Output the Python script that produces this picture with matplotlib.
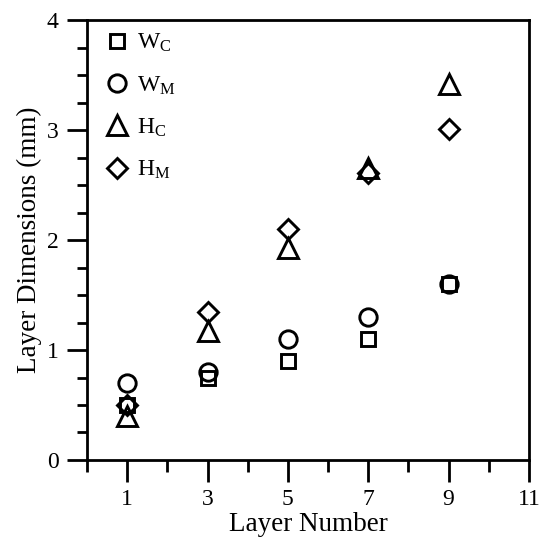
import matplotlib.pyplot as plt
from matplotlib.ticker import MultipleLocator, FixedLocator

plt.rcParams['font.family'] = 'Liberation Serif'
plt.rcParams['mathtext.fontset'] = 'custom'
plt.rcParams['mathtext.rm'] = 'Liberation Serif'
plt.rcParams['mathtext.it'] = 'Liberation Serif:italic'

# === DATA ===
layers = [1, 3, 5, 7, 9]
w_c = [0.50, 0.75, 0.90, 1.10, 1.60]
w_m = [0.70, 0.80, 1.10, 1.30, 1.60]
h_c = [0.40, 1.17, 1.93, 2.66, 3.42]
h_m = [0.50, 1.35, 2.10, 2.61, 3.01]

series = [
    (w_c, 's', 10.5, r'W$_\mathrm{C}$'),
    (w_m, 'o', 12.5, r'W$_\mathrm{M}$'),
    (h_c, '^', 14.5, r'H$_\mathrm{C}$'),
    (h_m, 'D', 10.0, r'H$_\mathrm{M}$'),
]

fig = plt.figure(figsize=(5.39, 5.45), dpi=100)
ax = fig.add_axes([0.1614, 0.156, 0.820, 0.807])

for vals, mk, ms, lab in series:
    ax.plot(layers, vals, linestyle='none', marker=mk, markersize=ms,
            markerfacecolor='none', markeredgecolor='black',
            markeredgewidth=2.1, label=lab)

ax.set_xlim(0, 11)
ax.set_ylim(0, 4)
ax.xaxis.set_major_locator(FixedLocator([1, 3, 5, 7, 9, 11]))
ax.xaxis.set_minor_locator(FixedLocator([0, 2, 4, 6, 8, 10]))
ax.yaxis.set_major_locator(MultipleLocator(1))
ax.yaxis.set_minor_locator(MultipleLocator(0.25))

ax.tick_params(axis='x', which='major', direction='out', length=16, width=2,
               labelsize=17, pad=5)
ax.tick_params(axis='x', which='minor', direction='out', length=8.5, width=2)
ax.tick_params(axis='y', which='major', direction='out', length=14.5, width=2,
               labelsize=17, pad=6)
ax.tick_params(axis='y', which='minor', direction='out', length=7, width=2)

for sp in ax.spines.values():
    sp.set_linewidth(2)

ax.set_xlabel('Layer Number', fontsize=19.5, labelpad=1)
ax.set_ylabel('Layer Dimensions (mm)', fontsize=19.5, labelpad=3)

ax.legend(loc='upper left', frameon=False, fontsize=17, numpoints=1,
          labelspacing=0.85, handletextpad=0.1, borderaxespad=0.3,
          borderpad=0.2, handlelength=1.5)

fig.savefig('out.png', dpi=100)
